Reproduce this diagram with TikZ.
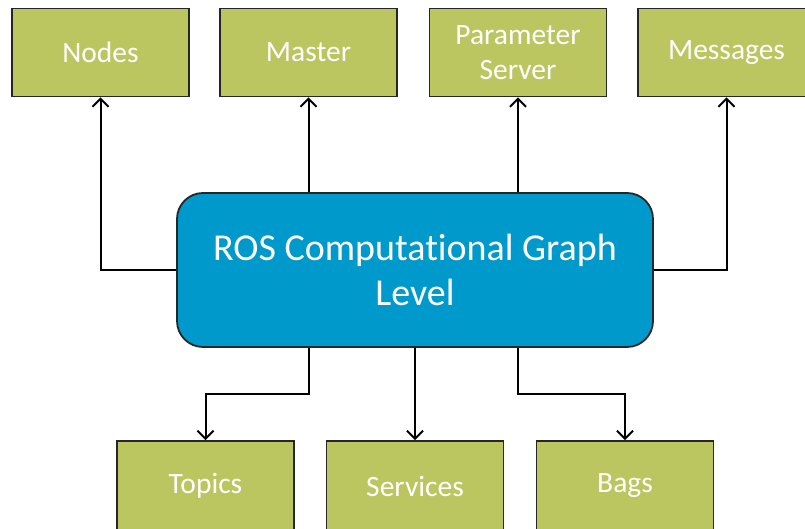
\documentclass[tikz,border=0pt]{standalone}
\usepackage{fontspec}
\setmainfont{Carlito}[Ligatures=NoCommon]
\usetikzlibrary{
  arrows.meta,
  calc
}
\definecolor{rosgreen}{RGB}{187,198,96}
\definecolor{rosblue}{RGB}{0,153,204}
\tikzset{
  leaf/.style={
    draw=black!85,
    line width=1.8pt,
    fill=rosgreen,
    text=white,
    align=center,
    inner sep=0pt,
    minimum width=177pt,
    minimum height=88pt,
    font=\fontsize{29.5}{35}\selectfont},
  core/.style={
    draw=black!85,
    line width=1.8pt,
    fill=rosblue,
    text=white,
    align=center,
    rounded corners=26pt,
    minimum width=476pt,
    minimum height=154pt,
    font=\fontsize{38}{45}\selectfont},
  link/.style={
    -{Straight Barb[length=8pt,width=16pt]},
    line width=2pt}
  }

\begin{document}
\begin{tikzpicture}[x=1pt,y=1pt]
      \useasboundingbox (0,0) rectangle (805,529);
      \node[core] (cg) at (415,259) {ROS Computational Graph\\Level};
      \node[leaf] (nodes) at (100.5,476.5) {Nodes};
      \node[leaf] (master) at (308.5,476.5) {Master};
      \node[leaf] (param) at (518,476.5) {Parameter\\Server};
      \node[leaf] (msgs) at (726.5,476.5) {Messages};
      \node[leaf,minimum height=90pt] (topics) at (205.5,43) {Topics};
      \node[leaf,minimum height=90pt] (services) at (415,43) {Services};
      \node[leaf,minimum height=90pt] (bags) at (625,43) {Bags};
      % upper level
      \draw[link] (cg.west) -| (nodes.south);
      \draw[link] (cg.north -| master.south) -- (master.south);
      \draw[link] (cg.north -| param.south) -- (param.south);
      \draw[link] (cg.east) -| (msgs.south);
      % lower level
      \draw[link] (cg.south -| master.south) -- ++(0,-46) -| (topics.north);
      \draw[link] (cg.south) -- (services.north);
      \draw[link] (cg.south -| param.south) -- ++(0,-46) -| (bags.north);
    \end{tikzpicture}
\end{document}
